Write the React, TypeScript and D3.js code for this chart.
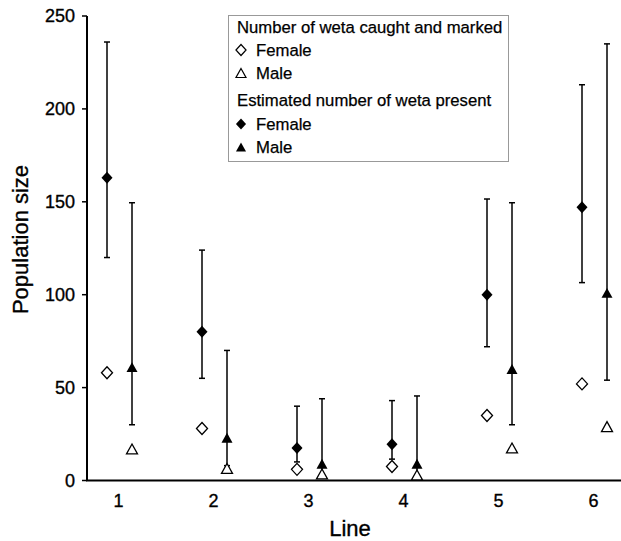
import React from "react";
import * as d3 from "d3";

const lines = [1, 2, 3, 4, 5, 6];
const femaleCaught = [58, 28, 6, 7.5, 35, 52];
const maleCaught = [17, 6.5, 3.5, 3, 17.5, 29];
const femaleEst = [163, 80, 17.5, 19.5, 100, 147];
const femaleLow = [120, 55, 10, 11.5, 72, 106.5];
const femaleHigh = [236, 124, 40, 43, 151.5, 213];
const maleEst = [61, 23, 9, 9, 60, 101];
const maleLow = [30, 8, 2, 2, 30, 54];
const maleHigh = [149.5, 70, 44, 45.5, 149.5, 235];
const yTicks = [0, 50, 100, 150, 200, 250];

const W = 621;
const H = 541;
const FONT = "'Liberation Sans', Arial, sans-serif";

const x = d3.scaleLinear().domain([1, 6]).range([119.5, 594.5]);
const y = d3.scaleLinear().domain([0, 250]).range([480.5, 16]);
const OFF = 12.5;
const CAP = 3;
const TS = { stroke: "#000", strokeWidth: 0.35 };

function diamond(cx: number, cy: number, r = 6) {
  return `M${cx},${cy - r}L${cx + r * 0.92},${cy}L${cx},${cy + r}L${cx - r * 0.92},${cy}Z`;
}
function triangle(cx: number, cy: number, s = 5.5) {
  const h = s * 0.9;
  return `M${cx},${cy - h}L${cx + s},${cy + h}L${cx - s},${cy + h}Z`;
}

function ErrBar({ cx, lo, hi }: { cx: number; lo: number; hi: number }) {
  return (
    <g stroke="#000" strokeWidth={1.5}>
      <line x1={cx} x2={cx} y1={y(lo)} y2={y(hi)} />
      <line x1={cx - CAP} x2={cx + CAP} y1={y(lo)} y2={y(lo)} />
      <line x1={cx - CAP} x2={cx + CAP} y1={y(hi)} y2={y(hi)} />
    </g>
  );
}

export default function App() {
  const legendItems = [
    { kind: "title", text: "Number of weta caught and marked", base: 33 },
    { kind: "od", text: "Female", base: 56 },
    { kind: "ot", text: "Male", base: 79 },
    { kind: "title", text: "Estimated number of weta present", base: 106 },
    { kind: "fd", text: "Female", base: 130 },
    { kind: "ft", text: "Male", base: 153 },
  ];
  return (
    <svg
      width={W}
      height={H}
      style={{ position: "absolute", left: 0, top: 0, background: "#fff" }}
      fontFamily={FONT}
    >
      <rect width={W} height={H} fill="#fff" />
      {/* y axis */}
      <line x1={87} x2={87} y1={y(250)} y2={y(0)} stroke="#000" strokeWidth={2} />
      {yTicks.map((t) => (
        <g key={t}>
          <line x1={82} x2={87} y1={y(t)} y2={y(t)} stroke="#000" strokeWidth={1.5} />
          <text x={75} y={y(t)} dy="0.35em" textAnchor="end" fontSize={18} {...TS}>
            {t}
          </text>
        </g>
      ))}
      {/* x axis */}
      <line x1={86} x2={621} y1={y(0)} y2={y(0)} stroke="#000" strokeWidth={2} />
      {lines.map((l) => (
        <text key={l} x={x(l) - 1} y={507} textAnchor="middle" fontSize={18} {...TS}>
          {l}
        </text>
      ))}
      <text x={350} y={536} textAnchor="middle" fontSize={22} {...TS}>
        Line
      </text>
      <text
        transform={`translate(28,${239.5}) rotate(-90)`}
        textAnchor="middle"
        fontSize={22}
        {...TS}
      >
        Population size
      </text>

      {/* error bars */}
      {lines.map((l, i) => (
        <g key={"e" + l}>
          <ErrBar cx={x(l) - OFF} lo={femaleLow[i]} hi={femaleHigh[i]} />
          <ErrBar cx={x(l) + OFF} lo={maleLow[i]} hi={maleHigh[i]} />
        </g>
      ))}
      {/* markers */}
      {lines.map((l, i) => (
        <g key={"m" + l}>
          <path d={diamond(x(l) - OFF, y(femaleCaught[i]))} fill="#fff" stroke="#000" strokeWidth={1.3} />
          <path d={triangle(x(l) + OFF, y(maleCaught[i]))} fill="#fff" stroke="#000" strokeWidth={1.3} />
          <path d={diamond(x(l) - OFF, y(femaleEst[i]))} fill="#000" />
          <path d={triangle(x(l) + OFF, y(maleEst[i]))} fill="#000" />
        </g>
      ))}

      {/* legend */}
      <rect x={228.5} y={15.5} width={280} height={146} fill="#fff" stroke="#999" strokeWidth={1} />
      {legendItems.map((it, i) => {
        const my = it.base - 6;
        return (
          <g key={i}>
            {it.kind === "od" && (
              <path d={diamond(241, my, 5.5)} fill="#fff" stroke="#000" strokeWidth={1.2} />
            )}
            {it.kind === "fd" && <path d={diamond(241, my, 5.5)} fill="#000" />}
            {it.kind === "ot" && (
              <path d={triangle(241, my, 5)} fill="#fff" stroke="#000" strokeWidth={1.2} />
            )}
            {it.kind === "ft" && <path d={triangle(241, my, 5)} fill="#000" />}
            <text x={it.kind === "title" ? 237 : 256} y={it.base} fontSize={16.7} stroke="#000" strokeWidth={0.25}>
              {it.text}
            </text>
          </g>
        );
      })}
    </svg>
  );
}
